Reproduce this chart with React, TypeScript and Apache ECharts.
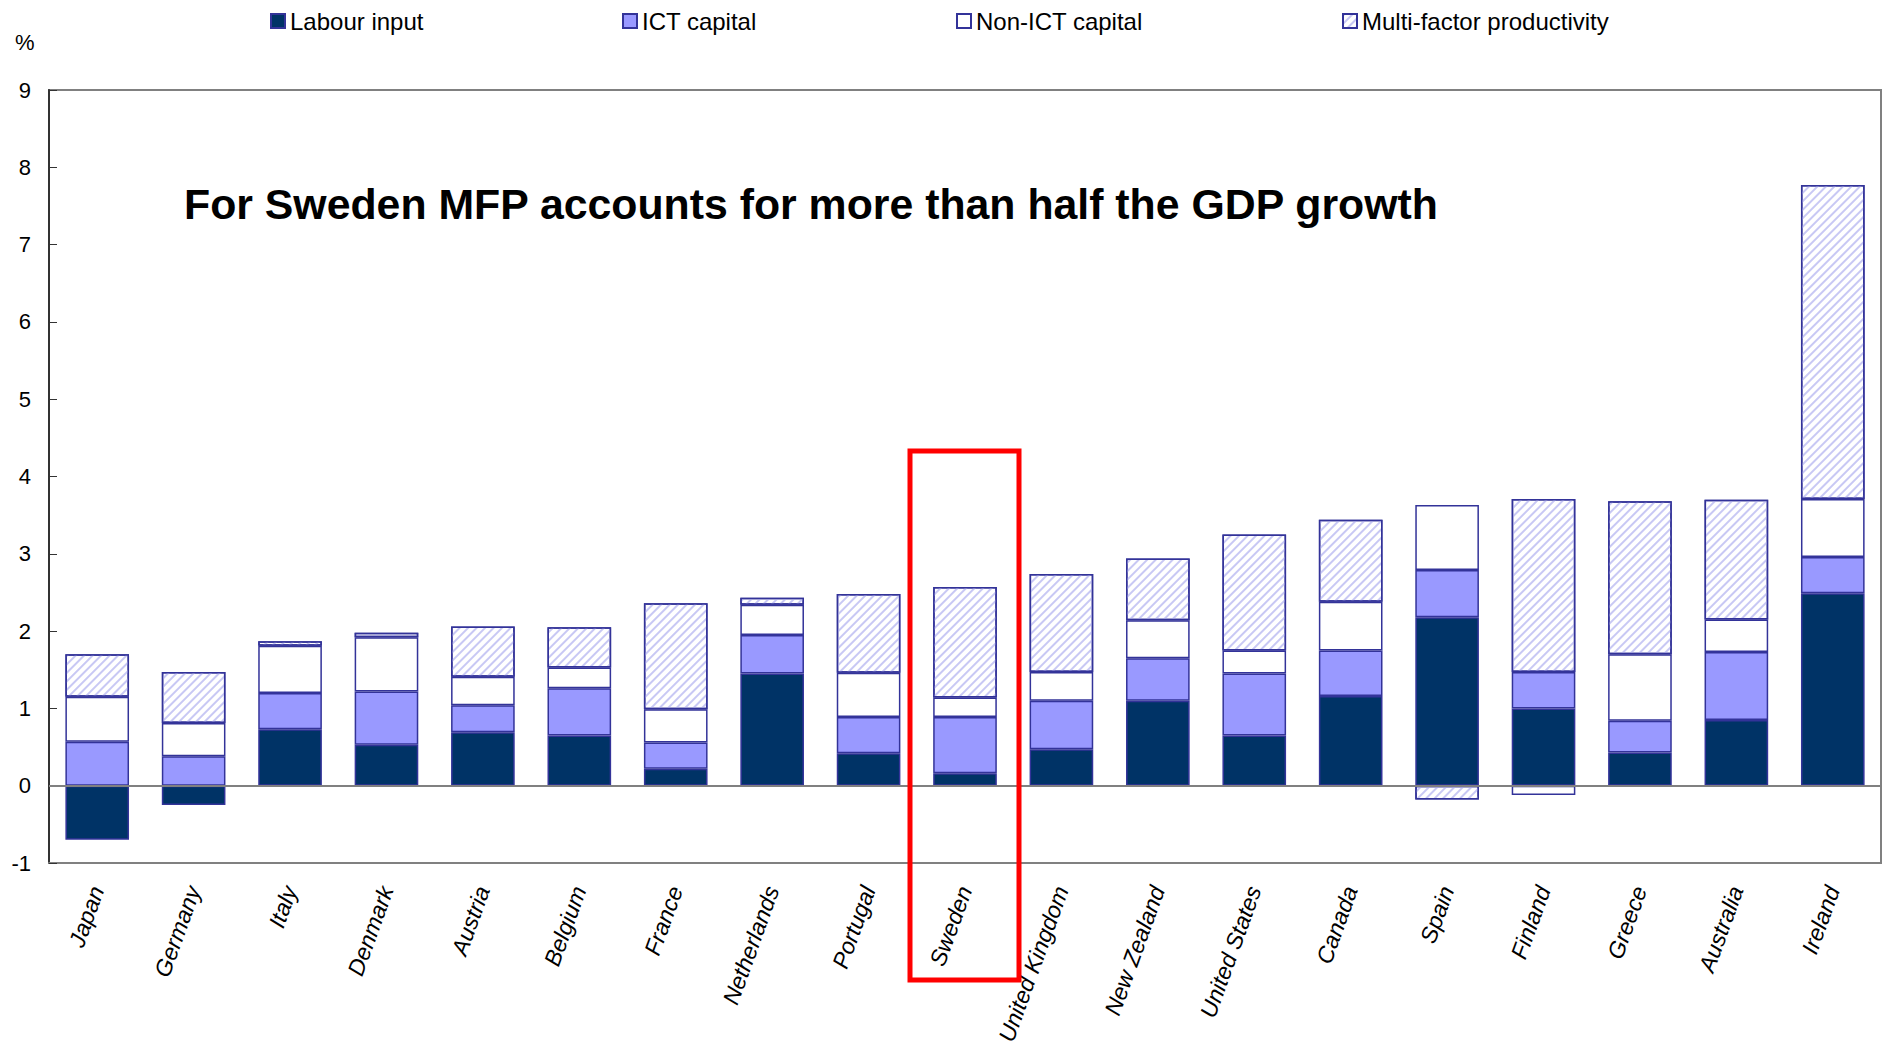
import React, { useEffect, useRef } from "react";
import * as echarts from "echarts";

const countries = ["Japan", "Germany", "Italy", "Denmark", "Austria", "Belgium", "France", "Netherlands", "Portugal", "Sweden", "United Kingdom", "New Zealand", "United States", "Canada", "Spain", "Finland", "Greece", "Australia", "Ireland"];
const labourInput = [-0.70, -0.25, 0.73, 0.53, 0.69, 0.65, 0.22, 1.45, 0.42, 0.16, 0.47, 1.10, 0.65, 1.16, 2.18, 1.00, 0.43, 0.85, 2.49];
const ictCapital = [0.57, 0.38, 0.47, 0.69, 0.35, 0.61, 0.34, 0.50, 0.47, 0.73, 0.63, 0.55, 0.80, 0.59, 0.61, 0.47, 0.41, 0.88, 0.47];
const nonIctCapital = [0.58, 0.43, 0.61, 0.70, 0.37, 0.27, 0.43, 0.39, 0.57, 0.25, 0.37, 0.49, 0.30, 0.63, 0.84, -0.12, 0.86, 0.42, 0.75];
const mfp = [0.55, 0.66, 0.06, 0.06, 0.65, 0.52, 1.37, 0.09, 1.02, 1.43, 1.27, 0.80, 1.50, 1.06, -0.18, 2.24, 1.98, 1.55, 4.06];
const yTicks = { min: -1, max: 9, interval: 1 };
const seriesNames = ["Labour input", "ICT capital", "Non-ICT capital", "Multi-factor productivity"];
const titleText = "For Sweden MFP accounts for more than half the GDP growth";

const FONT = "'Liberation Sans', Arial, sans-serif";
const BORDER = "#333399";

export default function App() {
  const ref = useRef<HTMLDivElement>(null);
  useEffect(() => {
    document.body.style.margin = "0";
    const chart = echarts.init(ref.current!, null, { renderer: "svg" });
    const base = {
      type: "bar",
      stack: "total",
      barWidth: "66%",
    };
    const legendLefts = [265, 617, 951, 1337];
    chart.setOption({
      animation: false,
      backgroundColor: "#ffffff",
      legend: seriesNames.map((n, i) => ({
        data: [n],
        left: legendLefts[i],
        top: 4,
        itemWidth: 14,
        itemHeight: 14,
        itemGap: 5,
        icon: "rect",
        textStyle: { fontFamily: FONT, fontSize: 24, color: "#000" },
      })),
      grid: {
        left: 49,
        right: 2,
        top: 90,
        bottom: 182,
        outerBoundsMode: "none",
        show: true,
        borderColor: "#808080",
        borderWidth: 2,
        backgroundColor: "transparent",
      },
      xAxis: {
        type: "category",
        data: countries,
        axisLine: { onZero: false, lineStyle: { color: "#808080", width: 2 } },
        axisTick: { show: false },
        axisLabel: {
          rotate: 70,
          interval: 0,
          fontFamily: FONT,
          fontSize: 23,
          fontStyle: "italic",
          color: "#000",
          margin: 24,
        },
      },
      yAxis: {
        type: "value",
        min: yTicks.min,
        max: yTicks.max,
        interval: yTicks.interval,
        axisLine: { show: true, lineStyle: { color: "#333", width: 2 } },
        axisTick: { show: true, inside: true, length: 8, lineStyle: { color: "#333" } },
        splitLine: { show: false },
        axisLabel: { fontFamily: FONT, fontSize: 22, color: "#000", margin: 18 },
      },
      series: [
        {
          ...base,
          name: seriesNames[0],
          data: labourInput,
          itemStyle: { color: "#003366", borderColor: BORDER, borderWidth: 1.5 },
          markLine: {
            silent: true,
            symbol: "none",
            label: { show: false },
            lineStyle: { color: "#808080", type: "solid", width: 2 },
            data: [{ yAxis: 0 }],
          },
        },
        {
          ...base,
          name: seriesNames[1],
          data: ictCapital,
          itemStyle: { color: "#9999ff", borderColor: BORDER, borderWidth: 1.5 },
        },
        {
          ...base,
          name: seriesNames[2],
          data: nonIctCapital,
          itemStyle: { color: "#ffffff", borderColor: BORDER, borderWidth: 1.5 },
        },
        {
          ...base,
          name: seriesNames[3],
          data: mfp,
          itemStyle: {
            color: "#ffffff",
            borderColor: BORDER,
            borderWidth: 1.5,
            decal: {
              symbol: "rect",
              symbolSize: 1,
              dashArrayX: [1, 0],
              dashArrayY: [1.6, 3.6],
              rotation: -Math.PI / 4,
              color: "#c8c8f4",
              backgroundColor: "#ffffff",
            },
          },
        },
      ],
      graphic: [
        {
          type: "text",
          left: 15,
          top: 31,
          style: { text: "%", font: `22px ${FONT}`, fill: "#000" },
        },
        {
          type: "text",
          x: 184,
          y: 204,
          style: {
            text: titleText,
            font: `bold 42.8px ${FONT}`,
            fill: "#000",
            textVerticalAlign: "middle",
          },
        },
        {
          type: "rect",
          shape: { x: 910, y: 451, width: 109, height: 529 },
          style: { fill: "none", stroke: "#ff0000", lineWidth: 5 },
          z: 100,
        },
      ],
    });
    return () => chart.dispose();
  }, []);
  return <div ref={ref} style={{ width: 1883, height: 1045 }} />;
}
